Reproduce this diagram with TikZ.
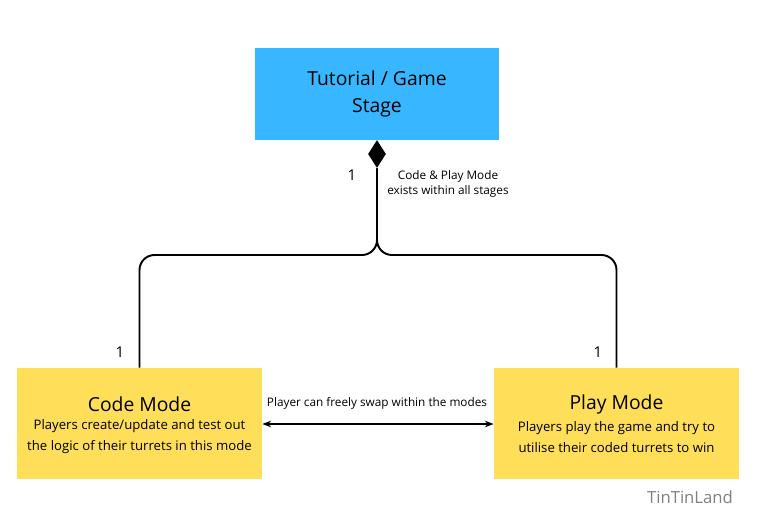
\documentclass[tikz,border=0pt]{standalone}
\usepackage{fontspec}
\setmainfont{Open Sans}
\usetikzlibrary{arrows.meta,shapes.geometric}
\definecolor{bluebox}{HTML}{38B6FF}
\definecolor{yelbox}{HTML}{FFDE59}
\begin{document}
\begin{tikzpicture}[x=0.02cm,y=-0.02cm,
  box/.style={draw=none,minimum width=4.9cm,minimum height=2.22cm,align=center,inner sep=0},
  lbl/.style={font=\fontsize{6.7}{8.5}\selectfont,align=center},
  conn/.style={line width=1.1pt,rounded corners=0.3cm}]
\useasboundingbox (0,0) rectangle (758,528);
\node[box,fill=bluebox,minimum height=1.84cm,font=\fontsize{11}{15}\selectfont] (top) at (377,94) {Tutorial / Game\\Stage};
\node[box,fill=yelbox] (code) at (139.5,423.5) {};
\node[box,fill=yelbox] (play) at (616.5,423.5) {};
\node[font=\fontsize{11}{13}\selectfont] (ct) at (139.5,404) {Code Mode};
\node[font=\fontsize{7.5}{12}\selectfont,align=center] (cb) at (139.5,437) {Players create/update and test out\\the logic of their turrets in this mode};
\node[font=\fontsize{11}{13}\selectfont] (pt) at (616.5,404) {Play Mode};
\node[font=\fontsize{7.5}{12}\selectfont,align=center] (pb) at (616.5,437) {Players play the game and try to\\utilise their coded turrets to win};
\node[diamond,fill=black,inner sep=0,minimum width=0.36cm,minimum height=0.56cm] (dia) at (377,154) {};
\draw[conn] (dia.south) -- (377,255) -| (code.north);
\draw[conn] (dia.south) -- (377,255) -| (play.north);
\draw[line width=0.9pt,{Stealth[length=5pt]}-{Stealth[length=5pt]}] (code.east |- 0,424) -- (play.west |- 0,424);
\node[lbl] (sw) at (377,403) {Player can freely swap within the modes};
\node[lbl] (cp) at (448,184) {Code \& Play Mode\\exists within all stages};
\node[font=\fontsize{8.5}{10}\selectfont] (n1) at (352,175) {1};
\node[font=\fontsize{8.5}{10}\selectfont] (n2) at (120,352) {1};
\node[font=\fontsize{8.5}{10}\selectfont] (n3) at (598,352) {1};
\node[font=\fontsize{9.5}{10}\selectfont,text=gray] (wm) at (690,497) {TinTinLand};
\end{tikzpicture}
\end{document}
